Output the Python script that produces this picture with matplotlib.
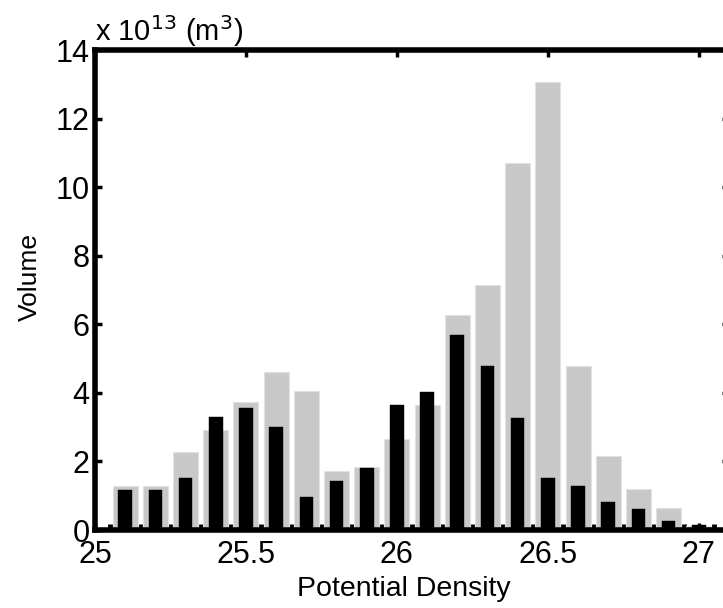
import numpy as np
import matplotlib
matplotlib.use("Agg")
import matplotlib.pyplot as plt

plt.rcParams['font.family'] = ['Liberation Sans', 'DejaVu Sans']

# data (volume in units of 1e13 m^3)
density = [25.1, 25.2, 25.3, 25.4, 25.5, 25.6, 25.7, 25.8, 25.9, 26.0,
           26.1, 26.2, 26.3, 26.4, 26.5, 26.6, 26.7, 26.8, 26.9, 27.0]
volume_gray = [1.28, 1.28, 2.27, 2.92, 3.72, 4.61, 4.05, 1.71, 1.85, 2.65,
               3.65, 6.27, 7.14, 10.69, 13.06, 4.77, 2.15, 1.21, 0.65, 0.12]
volume_black = [1.17, 1.17, 1.52, 3.29, 3.56, 3.00, 0.96, 1.44, 1.82, 3.65,
                4.02, 5.69, 4.77, 3.26, 1.51, 1.29, 0.82, 0.60, 0.27, 0.15]
xticks = [25, 25.5, 26, 26.5, 27]
xticklabels = ['25', '25.5', '26', '26.5', '27']
yticks = [0, 2, 4, 6, 8, 10, 12, 14]

W, H = 723, 608
fig = plt.figure(figsize=(W / 100, H / 100), dpi=100)
ax = fig.add_axes([95 / W, 78 / H, 634 / W, 480 / H])

ax.bar(density, volume_gray, width=0.083, color='#c8c8c8',
       edgecolor='#e2e2e2', linewidth=0.8, zorder=2)
ax.bar(density, volume_black, width=0.045, color='black',
       edgecolor='black', linewidth=0.3, zorder=3)

ax.set_xlim(25, 27.1)
ax.set_ylim(0, 14)
ax.set_xticks(xticks)
ax.set_xticklabels(xticklabels)
ax.set_yticks(yticks)

d = np.asarray(density)
edges = np.append(d - 0.05, d[-1] + 0.05)
ax.set_xticks(edges, minor=True)

for s in ax.spines.values():
    s.set_linewidth(4.0)
    s.set_zorder(5)

ax.tick_params(which='major', direction='in', length=5, width=2.5,
               top=True, right=True, labelsize=22, pad=4, colors='black')
ax.tick_params(which='minor', direction='in', length=4.5, width=3.5,
               bottom=True, top=False)
ax.tick_params(axis='y', which='major', pad=4)
ax.tick_params(axis='x', which='major', pad=7.5)

ax.set_xlabel('Potential Density', fontsize=20.5)
ax.set_ylabel('Volume', fontsize=19)
ax.xaxis.set_label_coords(0.487, -0.095)
ax.yaxis.set_label_coords(-0.084, 0.527)

ax.text(0.0, 1.019, r'x 10$^{13}$ (m$^3$)', transform=ax.transAxes,
        fontsize=21, ha='left', va='baseline')

fig.savefig('out.png', dpi=100)
